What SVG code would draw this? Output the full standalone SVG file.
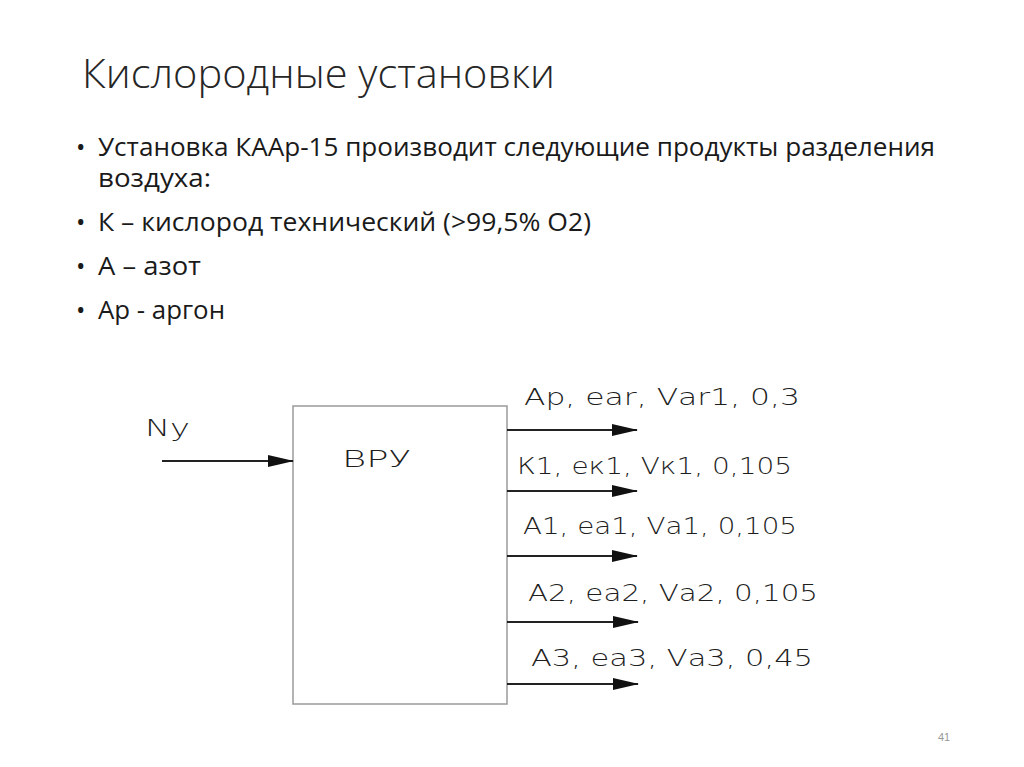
<svg xmlns="http://www.w3.org/2000/svg" width="1024" height="767" viewBox="0 0 1024 767">
<style>
.title{font-family:"Open Sans","Liberation Sans",sans-serif;font-size:41px;fill:#262626;font-weight:300}
.body{font-family:"Open Sans","Liberation Sans",sans-serif;font-size:25px;fill:#1a1a1a}
.cad{font-family:"DejaVu Sans","Liberation Sans",sans-serif;font-size:23px;fill:#1e1e1e;font-weight:200}
.ln{stroke:#222;stroke-width:2;fill:none}
.box{fill:#fff;stroke:#9a9a9a;stroke-width:1.5}
</style>
<defs>
<marker id="ah" markerUnits="userSpaceOnUse" markerWidth="26" markerHeight="12" refX="25" refY="6" orient="auto">
<path d="M0,0 L26,6 L0,12 Z" fill="#111"/>
</marker>
</defs>
<rect width="1024" height="767" fill="#fff"/>
<text class="title" x="82" y="88" textLength="473" lengthAdjust="spacingAndGlyphs">Кислородные установки</text>
<g id="bullets">
<text class="body" x="76" y="156">•</text>
<text class="body" x="98" y="156" textLength="837" lengthAdjust="spacingAndGlyphs">Установка КААр-15 производит следующие продукты разделения</text>
<text class="body" x="98" y="187" textLength="113" lengthAdjust="spacingAndGlyphs">воздуха:</text>
<text class="body" x="76" y="231">•</text>
<text class="body" x="98" y="231" textLength="493" lengthAdjust="spacingAndGlyphs">К – кислород технический (&gt;99,5% О2)</text>
<text class="body" x="76" y="275">•</text>
<text class="body" x="98" y="275" textLength="103" lengthAdjust="spacingAndGlyphs">А – азот</text>
<text class="body" x="76" y="319">•</text>
<text class="body" x="98" y="319" textLength="127" lengthAdjust="spacingAndGlyphs">Ар - аргон</text>
</g>
<g id="vru">
<rect class="box" x="293" y="406" width="214" height="298"/>
<text class="cad" x="342" y="467" textLength="69" lengthAdjust="spacingAndGlyphs">ВРУ</text>
</g>
<g id="input-label">
<text class="cad" x="145" y="436" textLength="45" lengthAdjust="spacingAndGlyphs">Nу</text>
</g>
<g id="output-labels">
<text class="cad" x="524" y="405" textLength="276" lengthAdjust="spacingAndGlyphs">Ар, еаr, Vаr1, 0,3</text>
<text class="cad" x="517" y="474" textLength="275" lengthAdjust="spacingAndGlyphs">К1, ек1, Vк1, 0,105</text>
<text class="cad" x="523" y="534" textLength="274" lengthAdjust="spacingAndGlyphs">А1, еа1, Vа1, 0,105</text>
<text class="cad" x="528" y="601" textLength="290" lengthAdjust="spacingAndGlyphs">А2, еа2, Vа2, 0,105</text>
<text class="cad" x="531" y="666" textLength="282" lengthAdjust="spacingAndGlyphs">А3, еа3, Vа3, 0,45</text>
</g>
<g id="connectors">
<line class="ln" x1="162" y1="461" x2="293" y2="461" marker-end="url(#ah)"/>
<line class="ln" x1="507" y1="430" x2="637" y2="430" marker-end="url(#ah)"/>
<line class="ln" x1="507" y1="491" x2="637" y2="491" marker-end="url(#ah)"/>
<line class="ln" x1="507" y1="556" x2="637" y2="556" marker-end="url(#ah)"/>
<line class="ln" x1="507" y1="622" x2="638" y2="622" marker-end="url(#ah)"/>
<line class="ln" x1="507" y1="684" x2="638" y2="684" marker-end="url(#ah)"/>
</g>
<text x="938" y="741" font-family="Liberation Sans, sans-serif" font-size="11" fill="#999">41</text>
</svg>
